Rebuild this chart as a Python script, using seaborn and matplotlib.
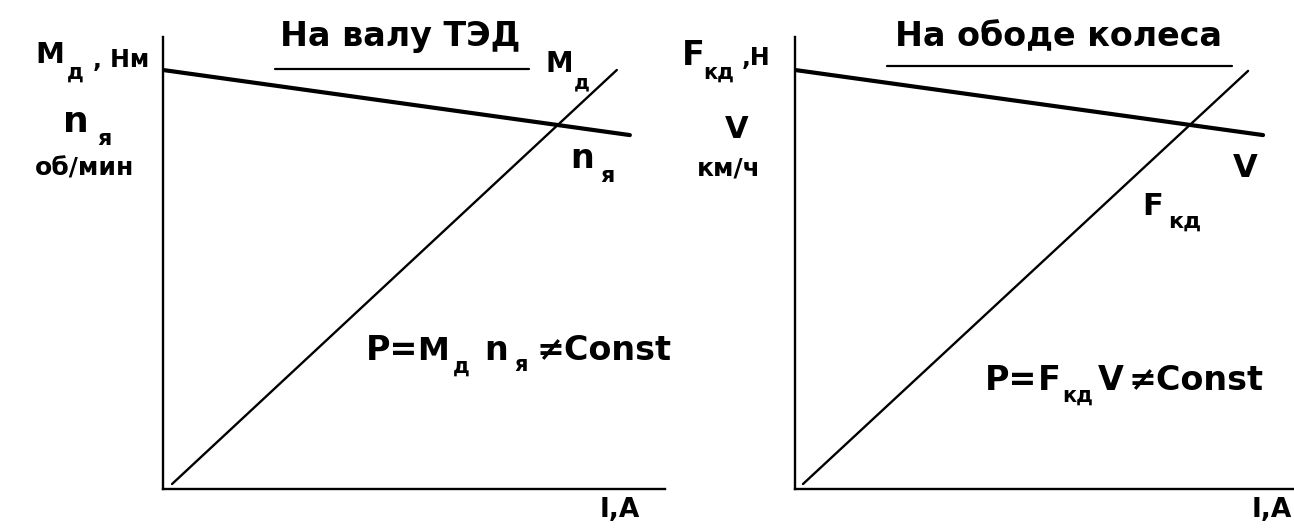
import matplotlib
matplotlib.use("Agg")
import matplotlib.pyplot as plt
import seaborn as sns

# motor shaft (left panel)
current_m = [1.8, 90.4]
torque_m = [1.1, 92.7]
current_n = [0.0, 93.0]
speed_n = [92.7, 78.3]

# wheel rim (right panel)
current_f = [1.6, 90.8]
force_f = [1.1, 92.5]
current_v = [0.0, 93.8]
speed_v = [92.7, 78.3]

titles = ["На валу ТЭД", "На ободе колеса"]

sns.set_style("white")
plt.rcParams["font.family"] = ["DejaVu Sans"]
plt.rcParams["font.weight"] = "bold"

W, H = 1294, 530
fig = plt.figure(figsize=(W / 100, H / 100), dpi=100)


def px_axes(x0, x1, y0, y1):
    return fig.add_axes([x0 / W, 1 - y1 / H, (x1 - x0) / W, (y1 - y0) / H])


def put(x, y, s, size):
    fig.text(x / W, 1 - y / H, s, fontsize=size, fontweight="bold",
             ha="left", va="baseline", color="black")


ax1 = px_axes(163, 665, 37, 489)
ax2 = px_axes(795, 1294, 37, 489)

for ax in (ax1, ax2):
    ax.set_xlim(0, 100)
    ax.set_ylim(0, 100)
    sns.despine(ax=ax)
    for side in ("left", "bottom"):
        ax.spines[side].set_linewidth(1.7)
        ax.spines[side].set_color("black")
    ax.set_xticks([])
    ax.set_yticks([])
    ax.set_xlabel("")
    ax.set_ylabel("")
    ax.patch.set_alpha(0)

sns.lineplot(x=current_m, y=torque_m, ax=ax1, color="black", linewidth=1.7)
sns.lineplot(x=current_n, y=speed_n, ax=ax1, color="black", linewidth=3.0)
sns.lineplot(x=current_f, y=force_f, ax=ax2, color="black", linewidth=1.7)
sns.lineplot(x=current_v, y=speed_v, ax=ax2, color="black", linewidth=3.0)

# title underlines
ax1.plot([0.223, 0.73], [0.93, 0.93], transform=ax1.transAxes, color="black", lw=1.6)
ax2.plot([0.184, 0.875], [0.935, 0.935], transform=ax2.transAxes, color="black", lw=1.6)

# left panel texts
put(280, 46, titles[0], 24)
put(35, 63, "M", 21)
put(67, 79, "д", 15)
put(93, 67, ", Нм", 17)
put(63, 132, "n", 26)
put(97, 145, "я", 16)
put(35, 175, "об/мин", 18)
put(545, 72, "M", 20)
put(574, 88, "д", 14)
put(570, 168, "n", 24)
put(600, 182, "я", 16)
put(366, 360, "P=", 24)
put(417, 360, "M", 23)
put(453, 373, "д", 15)
put(484, 360, "n", 24)
put(514, 371, "я", 15)
put(537, 360, "≠Const", 24)
put(600, 517, "I,A", 19)

# right panel texts
put(895, 46, titles[1], 24)
put(682, 65, "F", 24)
put(703, 79, "кд", 15)
put(742, 65, ",Н", 17)
put(725, 138, "V", 22)
put(697, 175, "км/ч", 18)
put(1233, 177, "V", 23)
put(1142, 215, "F", 22)
put(1168, 228, "кд", 16)
put(985, 390, "P=", 24)
put(1038, 390, "F", 24)
put(1062, 402, "кд", 15)
put(1098, 390, "V", 24)
put(1128, 390, "≠Const", 24)
put(1252, 517, "I,A", 19)

fig.savefig("out.png", dpi=100, facecolor="white")
